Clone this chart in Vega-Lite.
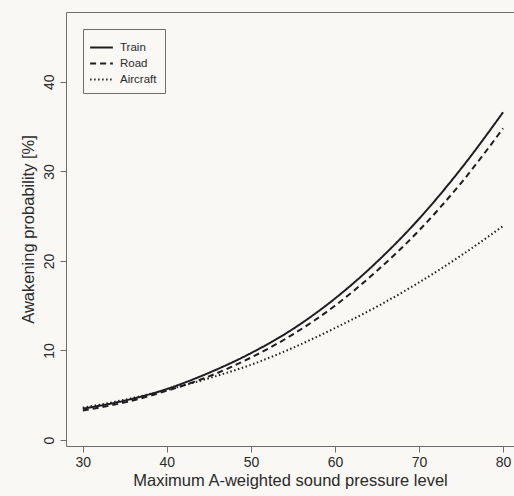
{
  "$schema": "https://vega.github.io/schema/vega-lite/v6.json",
  "autosize": "none",
  "width": 448,
  "height": 434,
  "padding": {"left": 66, "top": 12, "right": 0, "bottom": 50},
  "background": "#f9f8f4",
  "config": {
    "font": "Liberation Sans",
    "view": {"stroke": "#6f6a70", "strokeWidth": 1},
    "axis": {"grid": false, "domain": false, "tickColor": "#6f6a70", "tickSize": 6, "labelColor": "#2a2a2a", "titleColor": "#2a2a2a", "labelFontSize": 14, "titleFontSize": 16.5, "titleFontWeight": "normal", "labelFont": "Liberation Sans", "titleFont": "Liberation Sans"}
  },
  "data": {"values": [
    {"spl": 30, "p": 3.5, "source": "Train"},
    {"spl": 35, "p": 4.4, "source": "Train"},
    {"spl": 40, "p": 5.7, "source": "Train"},
    {"spl": 45, "p": 7.5, "source": "Train"},
    {"spl": 50, "p": 9.7, "source": "Train"},
    {"spl": 55, "p": 12.4, "source": "Train"},
    {"spl": 60, "p": 15.8, "source": "Train"},
    {"spl": 65, "p": 19.9, "source": "Train"},
    {"spl": 70, "p": 24.7, "source": "Train"},
    {"spl": 75, "p": 30.3, "source": "Train"},
    {"spl": 80, "p": 36.6, "source": "Train"},
    {"spl": 30, "p": 3.3, "source": "Road"},
    {"spl": 35, "p": 4.2, "source": "Road"},
    {"spl": 40, "p": 5.5, "source": "Road"},
    {"spl": 45, "p": 7.1, "source": "Road"},
    {"spl": 50, "p": 9.2, "source": "Road"},
    {"spl": 55, "p": 11.8, "source": "Road"},
    {"spl": 60, "p": 15.0, "source": "Road"},
    {"spl": 65, "p": 18.9, "source": "Road"},
    {"spl": 70, "p": 23.4, "source": "Road"},
    {"spl": 75, "p": 28.7, "source": "Road"},
    {"spl": 80, "p": 34.8, "source": "Road"},
    {"spl": 30, "p": 3.6, "source": "Aircraft"},
    {"spl": 35, "p": 4.5, "source": "Aircraft"},
    {"spl": 40, "p": 5.6, "source": "Aircraft"},
    {"spl": 45, "p": 6.9, "source": "Aircraft"},
    {"spl": 50, "p": 8.4, "source": "Aircraft"},
    {"spl": 55, "p": 10.3, "source": "Aircraft"},
    {"spl": 60, "p": 12.5, "source": "Aircraft"},
    {"spl": 65, "p": 14.9, "source": "Aircraft"},
    {"spl": 70, "p": 17.6, "source": "Aircraft"},
    {"spl": 75, "p": 20.6, "source": "Aircraft"},
    {"spl": 80, "p": 23.9, "source": "Aircraft"}
  ]},
  "mark": {"type": "line", "interpolate": "monotone", "color": "#1e1e22", "strokeWidth": 2, "clip": true},
  "encoding": {
    "x": {"field": "spl", "type": "quantitative", "scale": {"domain": [28, 81.3], "nice": false, "zero": false},
      "axis": {"values": [30, 40, 50, 60, 70, 80], "title": "Maximum A-weighted sound pressure level", "labelPadding": 3, "titlePadding": 3}},
    "y": {"field": "p", "type": "quantitative", "scale": {"domain": [-0.67, 47.8], "nice": false, "zero": false},
      "axis": {"values": [0, 10, 20, 30, 40], "title": "Awakening probability [%]", "labelAngle": -90, "labelPadding": 4, "titlePadding": 6}},
    "strokeDash": {"field": "source", "type": "nominal",
      "scale": {"domain": ["Train", "Road", "Aircraft"], "range": [[1, 0], [6, 4], [1.5, 2.5]]},
      "legend": {"title": null, "orient": "none", "legendX": 17, "legendY": 17, "symbolType": "M-1.2,0H1.2", "symbolSize": 361, "symbolStrokeWidth": 2, "symbolStrokeColor": "#1e1e22", "symbolFillColor": "transparent", "labelFontSize": 11.5, "labelColor": "#2a2a2a", "labelOffset": 8, "strokeColor": "#6f6a70", "padding": 8, "rowPadding": 0}
    }
  }
}
